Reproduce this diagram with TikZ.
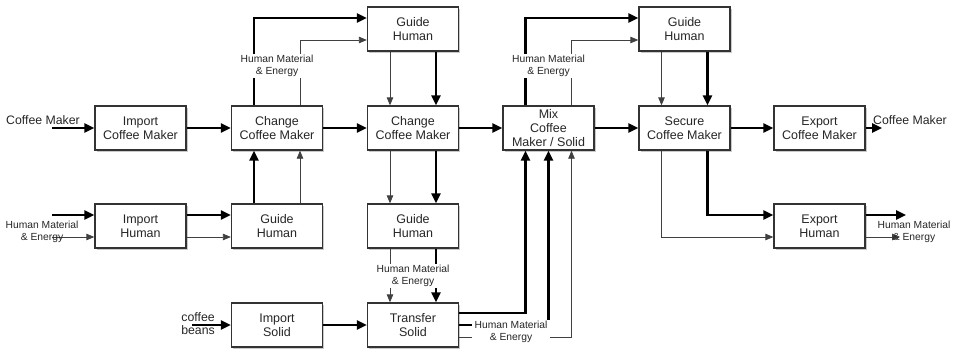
\documentclass[tikz,border=0pt]{standalone}
\usepackage{fontspec}
\setmainfont{Liberation Sans}
\usetikzlibrary{arrows.meta,shadows}
\tikzset{
  box/.style={draw=black!80, line width=1.3pt, fill=white, minimum width=91pt,
    minimum height=44pt, align=center, inner sep=1pt, text=black!85,
    font=\fontsize{12.5}{13.8}\selectfont,
    drop shadow={shadow xshift=1.5pt, shadow yshift=-2pt, opacity=0.35, fill=black!60}},
  thk/.style={line width=2.4pt, -{Triangle[length=10pt,width=9pt]}},
  thn/.style={line width=0.8pt, draw=black!75, -{Triangle[length=8pt,width=6.5pt]}},
  lbl/.style={align=center, inner sep=1.5pt, text=black!85, font=\fontsize{10.3}{11.8}\selectfont},
  wlbl/.style={lbl, fill=white},
  flbl/.style={align=center, inner sep=1pt, text=black!85, font=\fontsize{12.3}{13}\selectfont},
}
\begin{document}
\begin{tikzpicture}[x=1pt,y=-1pt,line join=miter]
  \useasboundingbox (0,0) rectangle (956,351);
  %upper row
  \node[box] (gh1) at (413,29) {Guide\\Human};
  \node[box] (gh2) at (684.5,29) {Guide\\Human};
  %middle row
  \node[box] (icm) at (140.5,128) {Import\\Coffee Maker};
  \node[box] (ccm1) at (277,128) {Change\\Coffee Maker};
  \node[box] (ccm2) at (413,128) {Change\\Coffee Maker};
  \node[box] (mix) at (548.5,128) {Mix\\Coffee\\Maker / Solid};
  \node[box] (scm) at (684.5,128) {Secure\\Coffee Maker};
  \node[box] (ecm) at (819.5,128) {Export\\Coffee Maker};
  %lower rows
  \node[box] (ih) at (140.5,226) {Import\\Human};
  \node[box] (gh3) at (277,226) {Guide\\Human};
  \node[box] (gh4) at (413,226) {Guide\\Human};
  \node[box] (eh) at (819.5,226) {Export\\Human};
  \node[box] (is) at (277,325) {Import\\Solid};
  \node[box] (ts) at (413,325) {Transfer\\Solid};
  %free ends
  \coordinate (cmin) at (52,128);
  \coordinate (cmout) at (882,128);
  \coordinate (hin1) at (52,215);
  \coordinate (hin2) at (52,237);
  \coordinate (hout1) at (906,215);
  \coordinate (hout2) at (900,237);
  \coordinate (beans) at (192,325);
  %coffee maker flow
  \draw[thk] (cmin) -- (icm.west);
  \draw[thk] (icm) -- (ccm1);
  \draw[thk] (ccm1) -- (ccm2);
  \draw[thk] (ccm2) -- (mix);
  \draw[thk] (mix) -- (scm);
  \draw[thk] (scm) -- (ecm);
  \draw[thk] (ecm.east) -- (cmout);
  %human flow, left part
  \draw[thk] (hin1) -- (ih.west |- hin1);
  \draw[thn] (hin2) -- (ih.west |- hin2);
  \draw[thk] (ih.east |- hin1) -- (gh3.west |- hin1);
  \draw[thn] (ih.east |- hin2) -- (gh3.west |- hin2);
  \draw[thk] ([xshift=-23pt]gh3.north) -- ([xshift=-23pt]ccm1.south);
  \draw[thn] ([xshift=23pt]gh3.north) -- ([xshift=23pt]ccm1.south);
  \draw[thk] ([xshift=-23pt]ccm1.north) |- ([yshift=11pt]gh1.west);
  \draw[thn] ([xshift=23pt]ccm1.north) |- ([yshift=-11pt]gh1.west);
  \draw[thn] ([xshift=-23pt]gh1.south) -- ([xshift=-23pt]ccm2.north);
  \draw[thk] ([xshift=23pt]gh1.south) -- ([xshift=23pt]ccm2.north);
  \draw[thn] ([xshift=-23pt]ccm2.south) -- ([xshift=-23pt]gh4.north);
  \draw[thk] ([xshift=23pt]ccm2.south) -- ([xshift=23pt]gh4.north);
  \draw[thn] ([xshift=-23pt]gh4.south) -- ([xshift=-23pt]ts.north);
  \draw[thk] ([xshift=23pt]gh4.south) -- ([xshift=23pt]ts.north);
  %solid flow
  \draw[thk] (beans) -- (is.west);
  \draw[thk] (is) -- (ts);
  \draw[thk] ([yshift=12pt]ts.east) -| ([xshift=-23pt]mix.south);
  \draw[thk] (ts.east) -| (mix.south);
  \draw[thn] ([yshift=-12pt]ts.east) -| ([xshift=23pt]mix.south);
  %human flow, right part
  \draw[thk] ([xshift=-23pt]mix.north) |- ([yshift=11pt]gh2.west);
  \draw[thn] ([xshift=23pt]mix.north) |- ([yshift=-11pt]gh2.west);
  \draw[thn] ([xshift=-23pt]gh2.south) -- ([xshift=-23pt]scm.north);
  \draw[thk] ([xshift=23pt]gh2.south) -- ([xshift=23pt]scm.north);
  \draw[thn] ([xshift=-23pt]scm.south) |- (eh.west |- hin2);
  \draw[thk] ([xshift=23pt]scm.south) |- (eh.west |- hin1);
  \draw[thk] (eh.east |- hout1) -- (hout1);
  \draw[thn] (eh.east |- hout2) -- (hout2);
  %labels
  \node[flbl] (tcmin) at (43,120) {Coffee Maker};
  \node[flbl] (tcmout) at (910,120) {Coffee Maker};
  \node[lbl] (thin) at (42,232) {Human Material\\\& Energy};
  \node[lbl] (thout) at (914,232) {Human Material\\\& Energy};
  \node[flbl, anchor=east] (tbeans) at (216,324) {coffee\\beans};
  \node[wlbl] (tm1) at (277,66) {Human Material\\\& Energy};
  \node[wlbl] (tm2) at (413,276) {Human Material\\\& Energy};
  \node[wlbl] (tm3) at (548.5,66) {Human Material\\\& Energy};
  \node[wlbl, inner xsep=2.5pt] (tm4) at (511,332) {Human Material\\\& Energy};
\end{tikzpicture}
\end{document}
